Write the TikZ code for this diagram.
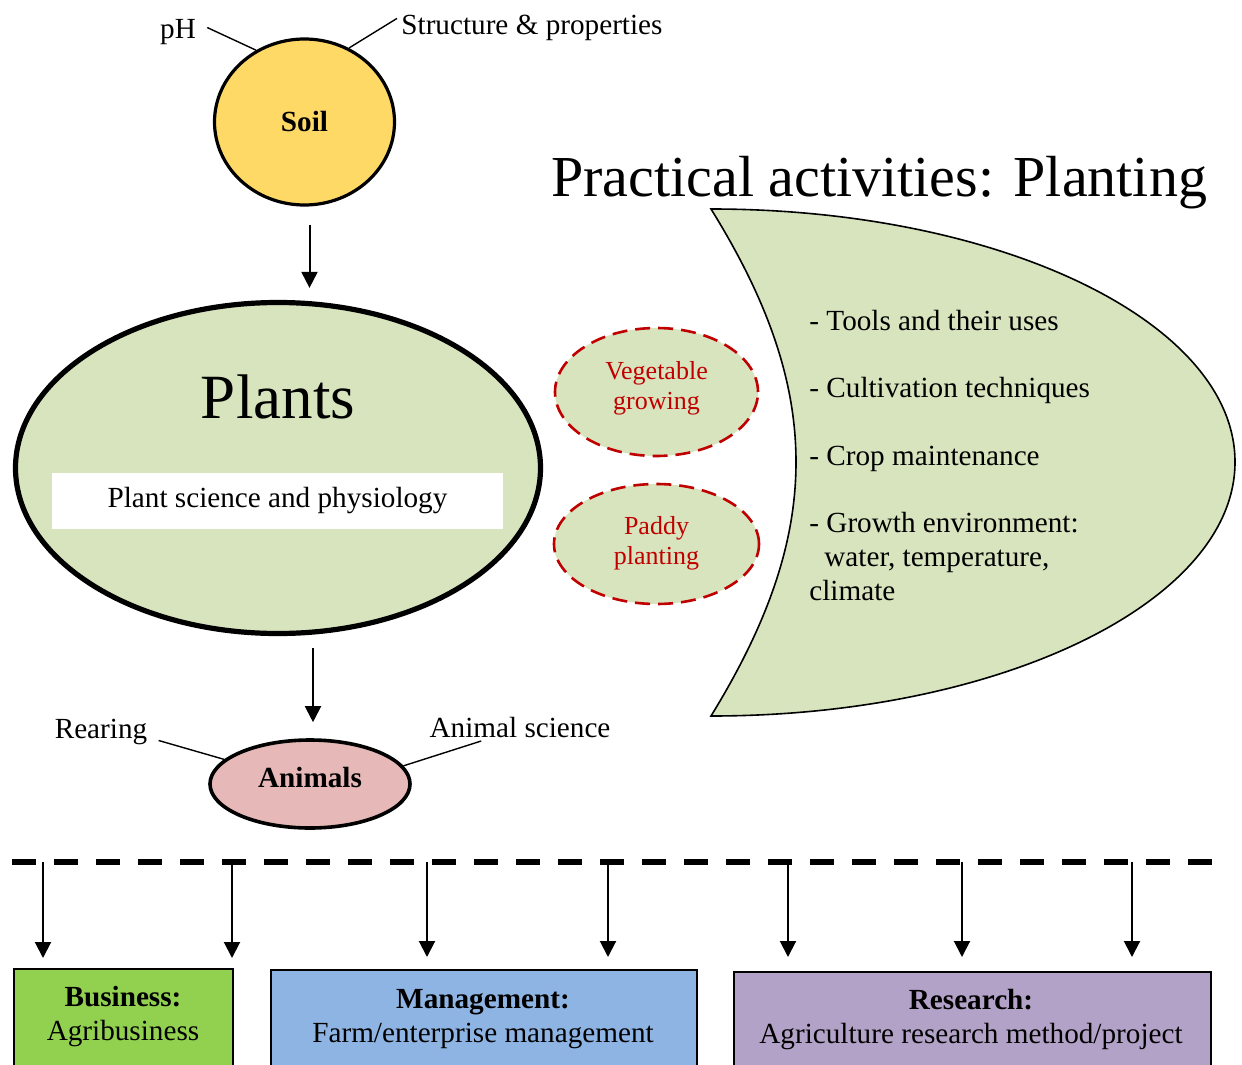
\documentclass[tikz,border=0pt]{standalone}
\usepackage{fontspec}
\setmainfont{Liberation Serif}
\usetikzlibrary{shapes.geometric,arrows.meta,calc}
\definecolor{soilc}{HTML}{FFD966}
\definecolor{plantc}{HTML}{D7E4BD}
\definecolor{animc}{HTML}{E6B8B7}
\definecolor{busc}{HTML}{92D050}
\definecolor{manc}{HTML}{8EB4E3}
\definecolor{resc}{HTML}{B3A2C7}
\definecolor{redc}{HTML}{C00000}
\begin{document}
\begin{tikzpicture}[x=0.5pt,y=-0.5pt,
  font=\fontsize{14.6}{17}\selectfont,
  txt/.style={inner sep=0pt},
  bold/.style={font=\bfseries\fontsize{14.6}{17}\selectfont},
  arr/.style={-{Triangle[length=8pt,width=8pt]},line width=1pt},
  tie/.style={line width=0.7pt},
  reddash/.style={ellipse,draw=redc,line width=1.3pt,dash pattern=on 7.5pt off 4pt,fill=plantc,inner sep=0pt},
  redtxt/.style={inner sep=0pt,align=center,text=redc,font=\fontsize{13}{15}\selectfont},
  boxn/.style={draw,line width=1pt,anchor=north west,inner sep=0pt}]
\useasboundingbox (0,0) rectangle (1242,1065);
\clip (0,0) rectangle (1242,1065);

% Soil
\node[ellipse,draw,line width=1.6pt,fill=soilc,minimum width=90pt,minimum height=83pt,inner sep=0pt,bold] (soil) at (304.5,122) {Soil};
\node[txt,anchor=base] (ph) at (178,39) {pH};
\node[txt,anchor=base west] (struct) at (401,35) {Structure \& properties};
\draw[tie] ($(ph.east)+(11,-5)$) -- (soil.124.9);
\draw[tie] ($(struct.west)+(-4,-10)$) -- (soil.59.5);

% Plants
\node[ellipse,draw,line width=2.6pt,fill=plantc,minimum width=262.5pt,minimum height=165.5pt,inner sep=0pt] (plants) at (278,468) {};
\node[txt,anchor=base,font=\fontsize{31.5}{36}\selectfont] (plantsT) at (278,418) {Plants};
\node[fill=white,minimum width=225.5pt,minimum height=28pt,inner sep=0pt] (psp) at (277.5,501) {Plant science and physiology};

\draw[arr] ($(soil.south)+(5,18)$) -- ($(soil.south |- plants.north)+(5,-12)$);

% Animals
\node[ellipse,draw,line width=1.8pt,fill=animc,minimum width=100pt,minimum height=44pt,inner sep=0pt] (anim) at (310,784) {};
\node[txt,bold] (animT) at (310,778) {Animals};
\node[txt,anchor=base] (rear) at (101,738) {Rearing};
\node[txt,anchor=base] (asci) at (520,737) {Animal science};
\draw[tie] ($(rear.east)+(11,9)$) -- (anim.164.7);
\draw[tie] ($(asci.west)+(52,14)$) -- (anim.11.6);
\draw[arr] ($(anim.north |- plants.south)+(3,12)$) -- ($(anim.north)+(3,-16)$);

% Dashed ellipses
\node[reddash,minimum width=101.5pt,minimum height=64pt] (veg) at (656.5,392) {};
\node[redtxt] (vegT) at (656.5,388) {Vegetable\\growing};
\node[reddash,minimum width=102.5pt,minimum height=60pt] (paddy) at (656.5,544) {};
\node[redtxt] (paddyT) at (656.5,543) {Paddy\\planting};

% Title
\node[txt,anchor=base west,font=\fontsize{29}{34}\selectfont] (title) at (551,196) {Practical activities: Planting};

% Crescent
\draw[line width=0.8pt,fill=plantc]
  (711,209) .. controls (1000,209) and (1235,322) .. (1235,462)
  .. controls (1235,602) and (1000,716) .. (711,716)
  .. controls (770,620) and (796,540) .. (796,462)
  .. controls (796,384) and (770,304) .. (711,209) -- cycle;
\node[txt,anchor=base west] (c1) at (809,330) {- Tools and their uses};
\node[txt,anchor=base west] (c2) at (809,397) {- Cultivation techniques};
\node[txt,anchor=base west] (c3) at (809,465) {- Crop maintenance};
\node[txt,anchor=base west] (c4) at (809,532) {- Growth environment:};
\node[txt,anchor=base west] (c5) at (824,566) {water, temperature,};
\node[txt,anchor=base west] (c6) at (809,600) {climate};

% Bottom boxes
\node[boxn,fill=busc,minimum width=109.5pt,minimum height=60pt] (bus) at (13,968) {};
\node[boxn,fill=manc,minimum width=213pt,minimum height=60pt] (man) at (270,969) {};
\node[boxn,fill=resc,minimum width=238.5pt,minimum height=60pt] (res) at (733,971) {};
\node[txt,anchor=base,bold] (busT1) at (123,1006) {Business:};
\node[txt,anchor=base] (busT2) at (123,1040) {Agribusiness};
\node[txt,anchor=base,bold] (manT1) at (483,1008) {Management:};
\node[txt,anchor=base] (manT2) at (483,1042) {Farm/enterprise management};
\node[txt,anchor=base,bold] (resT1) at (971,1009) {Research:};
\node[txt,anchor=base] (resT2) at (971,1043) {Agriculture research method/project};

% Dashed line and arrows
\coordinate (dl) at (12,862);
\coordinate (dr) at (1212,862);
\draw[line width=3pt,dash pattern=on 12pt off 9pt] (dl) -- (dr);
\coordinate (a1) at (43,862);
\coordinate (a2) at (232,862);
\coordinate (a3) at (427,862);
\coordinate (a4) at (608,862);
\coordinate (a5) at (788,862);
\coordinate (a6) at (962,862);
\coordinate (a7) at (1132,862);
\draw[arr,shorten >=5pt] (a1) -- (a1 |- bus.north);
\draw[arr,shorten >=5pt] (a2) -- (a2 |- bus.north);
\draw[arr,shorten >=6pt] (a3) -- (a3 |- man.north);
\draw[arr,shorten >=6pt] (a4) -- (a4 |- man.north);
\draw[arr,shorten >=7pt] (a5) -- (a5 |- res.north);
\draw[arr,shorten >=7pt] (a6) -- (a6 |- res.north);
\draw[arr,shorten >=7pt] (a7) -- (a7 |- res.north);
\end{tikzpicture}
\end{document}
